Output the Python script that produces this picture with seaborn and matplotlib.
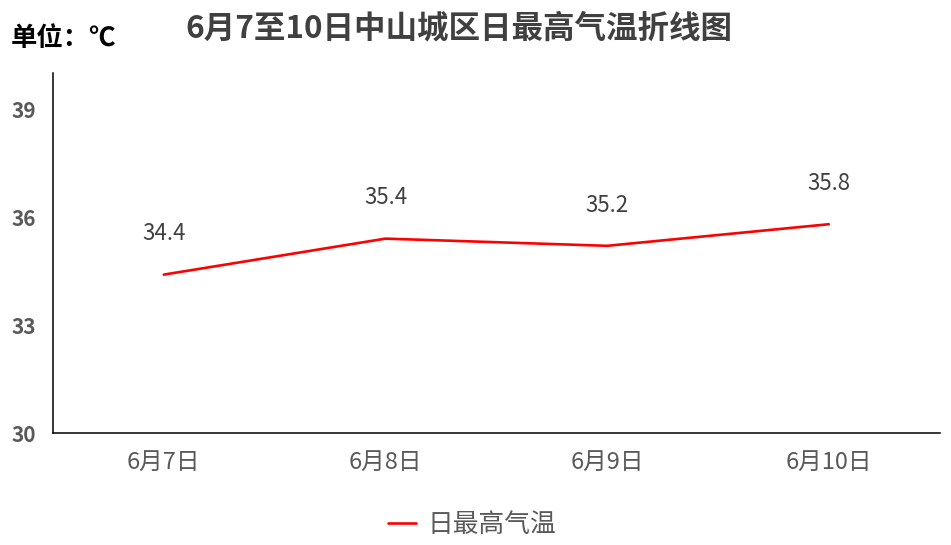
import matplotlib
matplotlib.use("Agg")
import matplotlib.pyplot as plt
import seaborn as sns
import pandas as pd

dates = ["6月7日", "6月8日", "6月9日", "6月10日"]
temps = [34.4, 35.4, 35.2, 35.8]
series_name = "日最高气温"
y_ticks = [30, 33, 36, 39]
title = "6月7至10日中山城区日最高气温折线图"
unit = "单位：℃"

sns.set_theme(style="white")
plt.rcParams['font.family'] = ['Noto Sans CJK SC', 'DejaVu Sans']

df = pd.DataFrame({"date": dates, "temp": temps, "series": series_name})

fig = plt.figure(figsize=(9.51, 5.45), dpi=100)
ax = fig.add_axes([0.0557, 0.2055, 0.9323, 0.6605])

sns.lineplot(data=df, x="date", y="temp", hue="series", palette=["#FF0000"],
             linewidth=1.9, sort=False, ax=ax)

ax.set_ylim(30, 40)
ax.set_xlim(-0.5, 3.5)
ax.set_yticks(y_ticks)
ax.set_xlabel("")
ax.set_ylabel("")

for i, v in enumerate(temps):
    ax.annotate(f"{v}", (i, v), xytext=(0, 21), textcoords="offset points",
                ha="center", va="bottom", fontsize=16, color="#404040")

ax.tick_params(axis="y", length=0, pad=12, labelsize=15, labelcolor="#595959")
ax.tick_params(axis="x", length=0, pad=13, labelsize=17, labelcolor="#595959")
for lbl in ax.get_yticklabels():
    lbl.set_fontweight("bold")

for s in ["top", "right"]:
    ax.spines[s].set_visible(False)
for s in ["left", "bottom"]:
    ax.spines[s].set_color("black")
    ax.spines[s].set_linewidth(1.1)

leg = ax.legend(loc="upper center", bbox_to_anchor=(0.473, -0.155), frameon=False,
                fontsize=18.5, handlelength=1.1, handletextpad=0.45)
for t in leg.get_texts():
    t.set_color("#595959")

fig.text(0.482, 0.948, title, ha="center", va="center", fontsize=22.7,
         fontweight="bold", color="#404040")
fig.text(0.011, 0.93, unit, ha="left", va="center", fontsize=19,
         fontweight="bold", color="black")

fig.savefig("out.png", dpi=100)
